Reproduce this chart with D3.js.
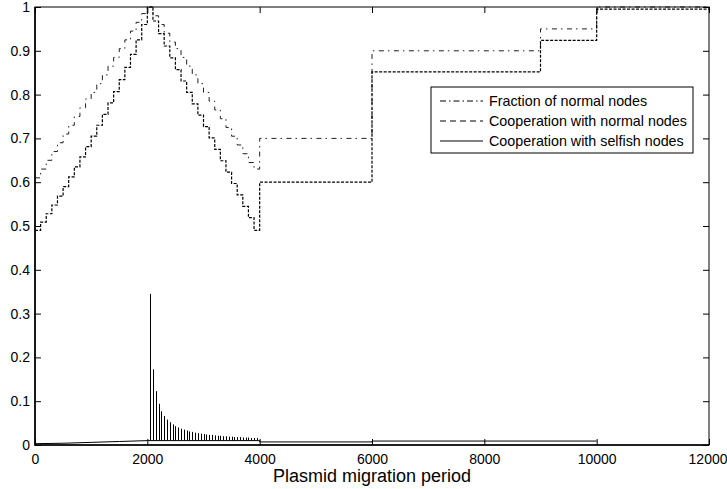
<!DOCTYPE html>
<html>
<head>
<meta charset="utf-8">
<script src="https://cdn.jsdelivr.net/npm/d3@7"></script>
<style>
  html, body { margin: 0; padding: 0; background: #fff; }
  svg text { font-family: "Liberation Sans", Arial, Helvetica, sans-serif; fill: #000; }
</style>
</head>
<body>
<svg id="chart" width="727" height="489"></svg>
<script>
// x break points of the step curves (plasmid migration period)
const stepX = [0, 100, 200, 300, 400, 500, 600, 700, 800, 900,
  1000, 1100, 1200, 1300, 1400, 1500, 1600, 1700, 1800, 1900,
  2000, 2100, 2200, 2300, 2400, 2500, 2600, 2700, 2800, 2900,
  3000, 3100, 3200, 3300, 3400, 3500, 3600, 3700, 3800, 3900,
  4000, 6000, 9000, 10000, 12000];

// Fraction of normal nodes
const fractionNormal = [0.61, 0.63, 0.65, 0.67, 0.69, 0.71, 0.73, 0.75, 0.77, 0.79,
  0.805, 0.825, 0.845, 0.865, 0.885, 0.905, 0.925, 0.945, 0.965, 0.985,
  1.0, 0.98, 0.96, 0.94, 0.92, 0.905, 0.885, 0.865, 0.845, 0.825,
  0.805, 0.785, 0.765, 0.745, 0.725, 0.705, 0.685, 0.665, 0.645, 0.63,
  0.70, 0.90, 0.95, 1.0, 1.0];

// Cooperation with normal nodes
const coopNormal = [0.49, 0.509, 0.528, 0.548, 0.568, 0.59, 0.612, 0.635, 0.658, 0.681,
  0.705, 0.73, 0.755, 0.781, 0.807, 0.834, 0.862, 0.892, 0.925, 0.96,
  1.0, 0.968, 0.939, 0.911, 0.884, 0.857, 0.831, 0.805, 0.779, 0.753,
  0.727, 0.701, 0.675, 0.649, 0.623, 0.597, 0.571, 0.545, 0.519, 0.49,
  0.60, 0.852, 0.924, 0.995, 0.995];

// Cooperation with selfish nodes: base level
const selfishBaseX = [0, 500, 1000, 1500, 2000, 4000, 4000, 6000, 6000, 10000];
const selfishBaseY = [0.003, 0.004, 0.006, 0.008, 0.010, 0.010, 0.007, 0.007, 0.009, 0.009];

// Cooperation with selfish nodes: spikes after 2000
const spikeX = [2050, 2100, 2150, 2200, 2250, 2300, 2350, 2400, 2450, 2500,
  2550, 2600, 2650, 2700, 2750, 2800, 2850, 2900, 2950, 3000,
  3050, 3100, 3150, 3200, 3250, 3300, 3350, 3400, 3450, 3500,
  3550, 3600, 3650, 3700, 3750, 3800, 3850, 3900, 3950];
const spikeY = [0.345, 0.173, 0.123, 0.094, 0.077, 0.066, 0.058, 0.052, 0.047, 0.043,
  0.040, 0.037, 0.035, 0.033, 0.031, 0.030, 0.028, 0.027, 0.026, 0.025,
  0.024, 0.023, 0.023, 0.022, 0.021, 0.021, 0.020, 0.020, 0.019, 0.019,
  0.018, 0.018, 0.018, 0.017, 0.017, 0.017, 0.016, 0.016, 0.016];

const xTicks = [0, 2000, 4000, 6000, 8000, 10000, 12000];
const yTicks = [0, 0.1, 0.2, 0.3, 0.4, 0.5, 0.6, 0.7, 0.8, 0.9, 1];
const legendLabels = ['Fraction of normal nodes', 'Cooperation with normal nodes', 'Cooperation with selfish nodes'];

const M = { left: 35, right: 709, top: 7, bottom: 445 };
const svg = d3.select('#chart');
const x = d3.scaleLinear().domain([0, 12000]).range([M.left, M.right]);
const y = d3.scaleLinear().domain([0, 1]).range([M.bottom, M.top]);

const plot = svg.append('g');

const stepLine = d3.line()
  .x(d => x(d[0]))
  .y(d => y(d[1]))
  .curve(d3.curveStepAfter);

// fraction of normal nodes (dash-dot)
plot.append('path')
  .datum(stepX.map((v, i) => [v, fractionNormal[i]]))
  .attr('d', stepLine)
  .attr('fill', 'none')
  .attr('stroke', '#222')
  .attr('stroke-width', 1)
  .attr('stroke-dasharray', '5,4,1.5,4.5');

// cooperation with normal nodes (dashed)
plot.append('path')
  .datum(stepX.map((v, i) => [v, coopNormal[i]]))
  .attr('d', stepLine)
  .attr('fill', 'none')
  .attr('stroke', '#000')
  .attr('stroke-width', 1.2)
  .attr('stroke-dasharray', '3,1.5');

// cooperation with selfish nodes (solid)
plot.append('path')
  .datum(selfishBaseX.map((v, i) => [v, selfishBaseY[i]]))
  .attr('d', d3.line().x(d => x(d[0])).y(d => y(d[1])))
  .attr('fill', 'none')
  .attr('stroke', '#000')
  .attr('stroke-width', 1);

plot.selectAll('line.spike')
  .data(spikeX.map((v, i) => [v, spikeY[i]]))
  .join('line')
  .attr('class', 'spike')
  .attr('x1', d => Math.round(x(d[0])) + 0.5)
  .attr('x2', d => Math.round(x(d[0])) + 0.5)
  .attr('y1', y(0.010))
  .attr('y2', d => y(d[1]))
  .attr('stroke', '#000')
  .attr('stroke-width', 1);

// axes, MATLAB style: inward ticks on all four sides
const tickLen = 6;
const axB = svg.append('g').attr('transform', `translate(0,${M.bottom})`)
  .call(d3.axisBottom(x).tickValues(xTicks).tickFormat(d3.format('d'))
    .tickSizeInner(-tickLen).tickSizeOuter(0).tickPadding(9));
const axT = svg.append('g').attr('transform', `translate(0,${M.top})`)
  .call(d3.axisTop(x).tickValues(xTicks).tickFormat('').tickSizeInner(-tickLen).tickSizeOuter(0));
const axL = svg.append('g').attr('transform', `translate(${M.left},0)`)
  .call(d3.axisLeft(y).tickValues(yTicks).tickFormat(d3.format('~g'))
    .tickSizeInner(-tickLen).tickSizeOuter(0).tickPadding(5));
const axR = svg.append('g').attr('transform', `translate(${M.right},0)`)
  .call(d3.axisRight(y).tickValues(yTicks).tickFormat('').tickSizeInner(-tickLen).tickSizeOuter(0));

[axB, axT, axL, axR].forEach(a => {
  a.select('.domain').remove();
  a.selectAll('.tick line').attr('stroke', '#000');
  a.selectAll('text').attr('font-size', 14).attr('fill', '#000')
    .style('font-family', '"Liberation Sans", Arial, sans-serif');
});
// last x label sits against the right edge, as in the original
axB.selectAll('.tick text').filter(d => d === 12000).attr('text-anchor', 'end').attr('x', 18);

// box
svg.append('rect')
  .attr('x', M.left).attr('y', M.top)
  .attr('width', M.right - M.left).attr('height', M.bottom - M.top)
  .attr('fill', 'none').attr('stroke', '#000').attr('stroke-width', 1);
svg.append('path')
  .attr('d', `M${M.left},${M.top}V${M.bottom}H${M.right}`)
  .attr('fill', 'none').attr('stroke', '#000').attr('stroke-width', 1.6);

svg.append('text')
  .attr('x', (M.left + M.right) / 2)
  .attr('y', 482)
  .attr('text-anchor', 'middle')
  .attr('font-size', 18)
  .text('Plasmid migration period');

// legend
const lg = svg.append('g').attr('transform', 'translate(431,87)');
lg.append('rect').attr('width', 262).attr('height', 66)
  .attr('fill', '#fff').attr('stroke', '#000').attr('stroke-width', 1);
const dashes = ['6,3,1.5,3', '6,4', null];
legendLabels.forEach((label, i) => {
  const cy = 14 + i * 20;
  lg.append('line')
    .attr('x1', 9).attr('x2', 52).attr('y1', cy).attr('y2', cy)
    .attr('stroke', '#000').attr('stroke-width', 1)
    .attr('stroke-dasharray', dashes[i]);
  lg.append('text')
    .attr('x', 58).attr('y', cy).attr('dy', '0.35em')
    .attr('font-size', 14.3)
    .text(label);
});
</script>
</body>
</html>
